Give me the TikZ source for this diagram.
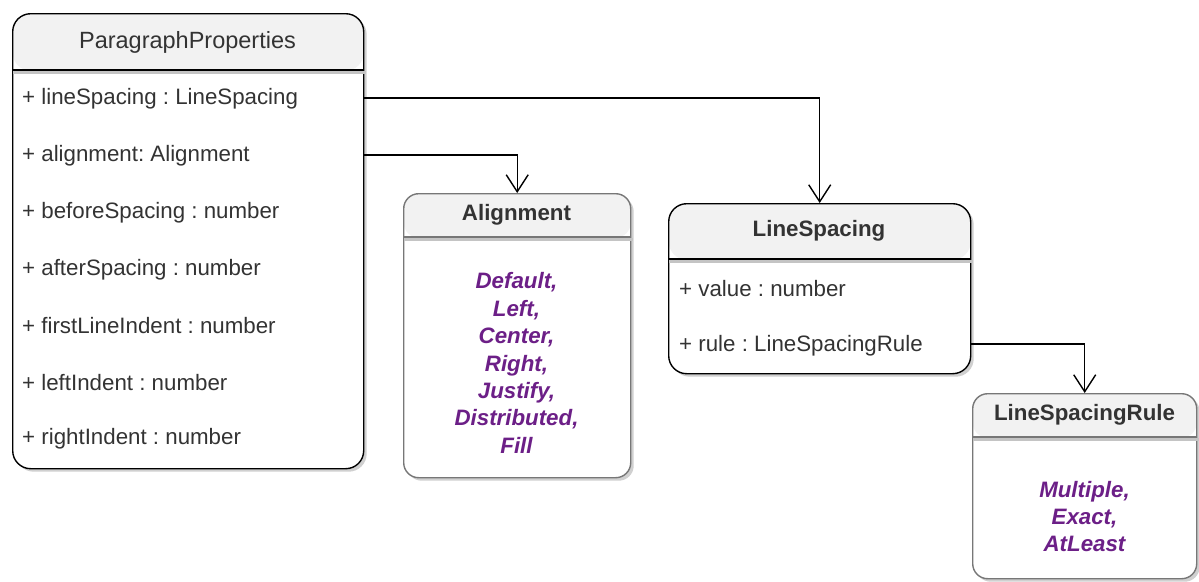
\documentclass[tikz,border=0pt]{standalone}
\usepackage{fontspec}
\setmainfont{Liberation Sans}
\usetikzlibrary{arrows.meta,shadows}
\definecolor{hdr}{HTML}{F2F2F2}
\definecolor{txt}{HTML}{333333}
\definecolor{enumc}{HTML}{6C1F87}
\definecolor{shad}{HTML}{D0D0D0}
\definecolor{sepgray}{HTML}{C4C4C4}
\definecolor{grayborder}{HTML}{777777}
\frenchspacing
\begin{document}
\begin{tikzpicture}[x=1pt,y=-1pt,
  classbox/.style={draw=#1, line width=1.4pt, fill=white, inner sep=0pt, anchor=north west,
    drop shadow={shadow xshift=3pt, shadow yshift=-3pt, fill=shad, opacity=1}},
  hdrfill/.style={path picture={\fill[hdr] (path picture bounding box.north west) rectangle ([yshift=-#1]path picture bounding box.north east);}},
  title/.style={inner sep=0pt, text=txt, font=\fontsize{22.3}{27}\selectfont\bfseries},
  row/.style={anchor=west, inner sep=0pt, text=txt, font=\fontsize{22.3}{27}\selectfont},
  enumlist/.style={inner sep=0pt, align=center, text=enumc, font=\fontsize{22.3}{27.4}\selectfont\bfseries\itshape},
  sepline/.style={line width=1.4pt},
  sepshadow/.style={draw=sepgray, line width=3pt},
  conn/.style={line width=1.4pt, -{Straight Barb[length=17pt,width=22pt,line width=1.4pt]}}
]
\useasboundingbox (0,0) rectangle (1199,581);

% ParagraphProperties
\node[classbox=black, rounded corners=18pt, hdrfill=57pt, minimum width=351pt, minimum height=455pt] (pp) at (12,13) {};
\draw[sepshadow] (13,72.6) -- (366,72.6);
\draw[sepline] (pp.west |- 0,70) -- (pp.east |- 0,70);
\node[title, font=\fontsize{23.5}{27}\selectfont] (ppt) at (187.5,42) {ParagraphProperties};
\node[row] (r1) at (22,99) {+ lineSpacing : LineSpacing};
\node[row] (r2) at (22,156) {+ alignment: Alignment};
\node[row] (r3) at (22,213) {+ beforeSpacing : number};
\node[row] (r4) at (22,270) {+ afterSpacing : number};
\node[row] (r5) at (22,326) {+ firstLineIndent : number};
\node[row] (r6) at (22,383) {+ leftIndent : number};
\node[row] (r7) at (22,439) {+ rightIndent : number};

% Alignment
\node[classbox=grayborder, rounded corners=15pt, hdrfill=44pt, minimum width=227pt, minimum height=284pt] (al) at (403,193) {};
\draw[sepshadow] (404,239.6) -- (633,239.6);
\draw[sepline, grayborder] (al.west |- 0,237) -- (al.east |- 0,237);
\node[title] (alt) at (516.5,215) {Alignment};
\node[enumlist] (ale) at (516.5,363) {Default,\\Left,\\Center,\\Right,\\Justify,\\Distributed,\\Fill};

% LineSpacing
\node[classbox=black, rounded corners=18pt, hdrfill=56pt, minimum width=302pt, minimum height=170pt] (ls) at (668,203) {};
\draw[sepshadow] (669,261.6) -- (973,261.6);
\draw[sepline] (ls.west |- 0,259) -- (ls.east |- 0,259);
\node[title] (lst) at (819,231) {LineSpacing};
\node[row] (lv) at (679,289) {+ value : number};
\node[row] (lr) at (679,346) {+ rule : LineSpacingRule};

% LineSpacingRule
\node[classbox=grayborder, rounded corners=15pt, hdrfill=44pt, minimum width=224pt, minimum height=185pt] (lsr) at (972,393) {};
\draw[sepshadow] (973,439.6) -- (1199,439.6);
\draw[sepline, grayborder] (lsr.west |- 0,437) -- (lsr.east |- 0,437);
\node[title] (lsrt) at (1084.5,415) {LineSpacingRule};
\node[enumlist] (lsre) at (1084.5,516.5) {Multiple,\\Exact,\\AtLeast};

% connectors
\draw[conn] (pp.east |- 0,98) -| (ls.north);
\draw[conn] (pp.east |- 0,155) -| (al.north);
\draw[conn] (ls.east |- 0,344) -| (lsr.north);
\end{tikzpicture}
\end{document}
